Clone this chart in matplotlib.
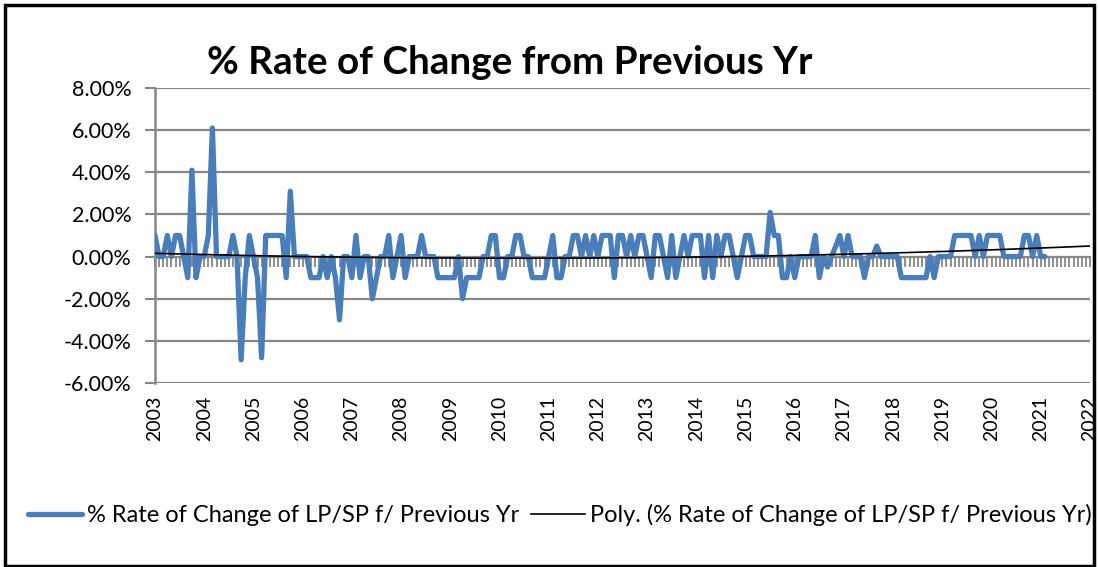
import numpy as np
import matplotlib.pyplot as plt
from matplotlib.patches import Rectangle

plt.rcParams['font.family'] = ['Lato', 'DejaVu Sans']

# monthly % rate of change, Jan 2003 .. Feb 2021
v2003 = [1, 0, 0, 1, 0, 1, 1, 0, -1, 4.1, -1, 0]
v2004 = [0, 1, 6.1, 0, 0, 0, 0, 1, 0, -4.9, -1, 1]
v2005 = [0, -1, -4.8, 1, 1, 1, 1, 1, -1, 3.1, 0, 0]
v2006 = [0, 0, -1, -1, -1, 0, -1, 0, -1, -3, 0, 0]
v2007 = [-1, 1, -1, 0, 0, -2, -1, 0, 0, 1, -1, 0]
v2008 = [1, -1, 0, 0, 0, 1, 0, 0, 0, -1, -1, -1]
v2009 = [-1, -1, 0, -2, -1, -1, -1, -1, 0, 0, 1, 1]
v2010 = [-1, -1, 0, 0, 1, 1, 0, 0, -1, -1, -1, -1]
v2011 = [0, 1, -1, -1, 0, 0, 1, 1, 0, 1, 0, 1]
v2012 = [0, 1, 1, 1, -1, 1, 1, 0, 1, 0, 1, 1]
v2013 = [0, -1, 1, 1, 0, -1, 1, -1, 0, 1, 0, 1]
v2014 = [1, 1, -1, 1, -1, 1, 0, 1, 1, 0, -1, 0]
v2015 = [1, 1, 0, 0, 0, 0, 2.1, 1, 1, -1, -1, 0]
v2016 = [-1, 0, 0, 0, 0, 1, -1, 0, -0.5, 0, 0.5, 1]
v2017 = [0, 1, 0, 0, 0, -1, 0, 0, 0.5, 0, 0, 0]
v2018 = [0, 0, -1, -1, -1, -1, -1, -1, -1, 0, -1, 0]
v2019 = [0, 0, 0, 1, 1, 1, 1, 1, 0, 1, 0, 1]
v2020 = [1, 1, 1, 0, 0, 0, 0, 0, 1, 1, 0, 1]
v2021 = [0, 0]

values = np.array(v2003 + v2004 + v2005 + v2006 + v2007 + v2008 + v2009 + v2010
                  + v2011 + v2012 + v2013 + v2014 + v2015 + v2016 + v2017
                  + v2018 + v2019 + v2020 + v2021) / 100.0
dates = 2003 + np.arange(len(values)) / 12.0
years = list(range(2003, 2023))
yticks = [-0.06, -0.04, -0.02, 0, 0.02, 0.04, 0.06, 0.08]

series_name = '% Rate of Change of LP/SP f/ Previous Yr'
title = '% Rate of Change from Previous Yr'

# polynomial trendline (order 2), extended to 2022
c = np.polyfit(dates - 2012, values, 2)
tx = np.linspace(2003, 2022, 300)
ty = np.polyval(c, tx - 2012)

W, H = 1098, 567
fig = plt.figure(figsize=(W / 100, H / 100), dpi=100)
ax = fig.add_axes([155 / W, 1 - 383 / H, (1090 - 155) / W, (383 - 88) / H])

blue = '#4A7EBB'
grey = '#878787'

ax.plot(dates, values, color=blue, lw=3.8, solid_joinstyle='round',
        solid_capstyle='round', zorder=3, label=series_name)
ax.plot(tx, ty, color='black', lw=1.2, zorder=4,
        label='Poly. (' + series_name + ')')

ax.set_xlim(2003, 2022)
ax.set_ylim(-0.06, 0.08)
ax.set_yticks(yticks)
ax.set_yticklabels(['{:.2f}%'.format(t * 100) for t in yticks], fontsize=15.5)
ax.yaxis.grid(True, color=grey, lw=1.6)
ax.set_axisbelow(True)
ax.tick_params(axis='y', length=7, width=1.5, color=grey, pad=10)

for s in ['top', 'right']:
    ax.spines[s].set_visible(False)
ax.spines['left'].set_color(grey)
ax.spines['left'].set_linewidth(1.8)
ax.spines['bottom'].set_position(('data', 0))
ax.spines['bottom'].set_color(grey)
ax.spines['bottom'].set_linewidth(1.5)

ax.set_xticks(years)
ax.set_xticks(np.arange(2003, 2022, 1 / 12.0), minor=True)
ax.tick_params(axis='x', which='both', direction='out', length=7, width=1.3,
               color=grey, labelbottom=False)

sec = ax.secondary_xaxis('bottom')
sec.set_xticks(years)
sec.set_xticklabels([str(y) for y in years], rotation=90, fontsize=14)
sec.tick_params(length=0, pad=9)
sec.spines['bottom'].set_visible(False)

fig.text(510 / W, 1 - 62 / H, title, fontsize=27.8, fontweight='bold',
         ha='center', va='center')

fig.legend(loc='center left', bbox_to_anchor=(28 / W, 1 - 515 / H), ncol=2,
           frameon=False, fontsize=17, handlelength=2.3, handletextpad=0.2,
           columnspacing=0.5, borderpad=0, borderaxespad=0)

fig.patches.append(Rectangle((5 / W, 1 / H), 1089 / W, 1 - 6 / H,
                             transform=fig.transFigure, fill=False,
                             edgecolor='black', lw=2.5))

fig.savefig('out.png', dpi=100)
